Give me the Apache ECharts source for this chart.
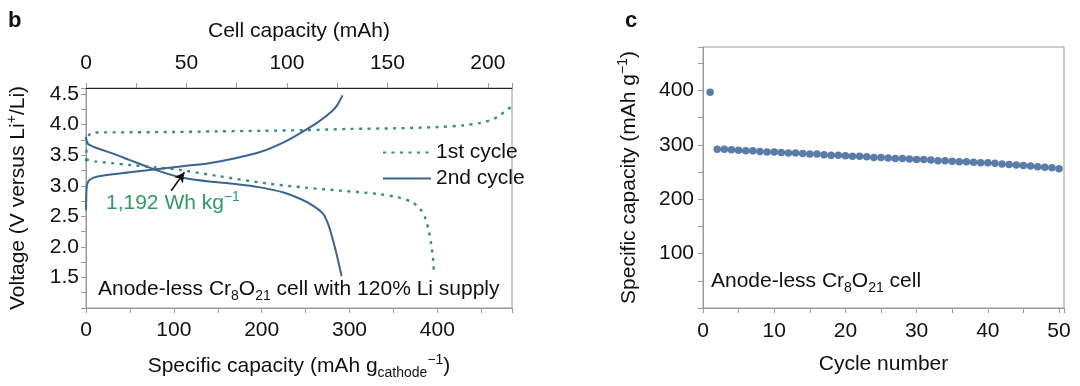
<!DOCTYPE html>
<html><head><meta charset="utf-8">
<script src="https://cdn.jsdelivr.net/npm/echarts@6/dist/echarts.min.js"></script>
<style>html,body{margin:0;padding:0;background:#fff}#c{width:1080px;height:386px}</style>
</head><body><div id="c"></div>
<script>
// Panel b: voltage profiles [specific capacity (mAh/g), voltage (V)]
const cycle1Charge = [[0,3.40],[0.5,3.55],[1,3.68],[2,3.78],[4,3.84],[8,3.87],[50,3.875],[100,3.88],[150,3.89],[200,3.90],[250,3.91],[300,3.93],[350,3.94],[400,3.96],[430,3.99],[450,4.03],[462,4.08],[470,4.14],[478,4.23],[484,4.29]];
const cycle1Discharge = [[0,3.43],[10,3.40],[30,3.37],[50,3.34],[80,3.30],[107,3.26],[150,3.16],[205,3.04],[250,2.97],[290,2.92],[330,2.87],[355,2.81],[370,2.74],[380,2.63],[386,2.48],[390,2.28],[393,2.05],[395,1.82],[396,1.62]];
const cycle2Charge = [[0,2.60],[0.5,2.90],[1,3.00],[3,3.08],[8,3.13],[20,3.17],[50,3.22],[80,3.27],[110,3.32],[140,3.37],[170,3.45],[200,3.56],[225,3.71],[245,3.87],[265,4.05],[280,4.22],[286,4.32],[292,4.48]];
const cycle2Discharge = [[0,3.80],[2,3.69],[10,3.63],[30,3.53],[50,3.42],[70,3.31],[90,3.21],[110,3.13],[140,3.07],[170,3.03],[200,2.97],[225,2.89],[245,2.78],[260,2.66],[270,2.54],[276,2.36],[281,2.12],[286,1.84],[291,1.52]];
const arrowFrom = [97, 2.92];
const arrowTo = [112, 3.22];

// Panel c: cycling
const cycleNumbers = [1,2,3,4,5,6,7,8,9,10,11,12,13,14,15,16,17,18,19,20,21,22,23,24,25,26,27,28,29,30,31,32,33,34,35,36,37,38,39,40,41,42,43,44,45,46,47,48,49,50];
const specificCapacity = [397,292,292,291,290,289,289,288,287,287,286,285,285,284,283,283,282,281,281,280,279,279,278,277,277,276,275,275,274,273,273,272,271,271,270,269,269,268,267,267,266,265,264,263,262,261,260,259,258,256];

const FONT = 'Liberation Sans, Arial, Helvetica, sans-serif';
const GREY = '#9a9a9a';
const GREEN = '#2e9a6c';
const LGREEN = '#358f78';
const BLUE = '#3b6590';
const DOT = '#2f5d92';

const rich = {
  n: {fontSize: 21, fontFamily: FONT, color: '#111', fill: '#111', lineHeight: 27},
  sub: {fontSize: 14, fontFamily: FONT, color: '#111', fill: '#111', lineHeight: 13, verticalAlign: 'bottom'},
  sup: {fontSize: 14, fontFamily: FONT, color: '#111', fill: '#111', lineHeight: 13, verticalAlign: 'top'},
  gn: {fontSize: 21, fontFamily: FONT, color: GREEN, fill: GREEN, lineHeight: 27},
  gsup: {fontSize: 14, fontFamily: FONT, color: GREEN, fill: GREEN, lineHeight: 13, verticalAlign: 'top'}
};

const LBL = {fontSize: 21, fontFamily: FONT, color: '#111'};

function axisCommon(extra) {
  return Object.assign({
    type: 'value',
    axisLine: {show: true, lineStyle: {color: GREY, width: 1}},
    axisTick: {show: true, inside: false, length: 5, lineStyle: {color: GREY}},
    splitLine: {show: false},
    nameLocation: 'middle',
    nameTextStyle: {rich: rich}
  }, extra);
}

const isMult = (v, m) => Math.abs(v / m - Math.round(v / m)) < 1e-6;

const chart = echarts.init(document.getElementById('c'));
chart.setOption({
  animation: false,
  grid: [
    {left: 86, right: 568, top: 88, bottom: 78, show: true, borderColor: GREY, borderWidth: 1},
    {left: 703, right: 16, top: 47, bottom: 78, show: true, borderColor: GREY, borderWidth: 1}
  ],
  legend: {
    data: ['1st cycle', '2nd cycle'],
    orient: 'vertical', left: 377, top: 137,
    itemWidth: 48, itemHeight: 14, itemGap: 5,
    itemStyle: {opacity: 0},
    textStyle: {fontSize: 21, fontFamily: FONT, color: '#111'}
  },
  xAxis: [
    axisCommon({gridIndex: 0, position: 'bottom', min: 0, max: 485, interval: 50,
      name: '{n|Specific capacity (mAh g}{sub|cathode}{sup|−1}{n|)}', nameGap: 45,
      axisLabel: Object.assign({margin: 12, formatter: v => (isMult(v, 100) ? String(v) : '')}, LBL)}),
    axisCommon({gridIndex: 0, position: 'top', min: 0, max: 212, interval: 25,
      name: '{n|Cell capacity (mAh)}', nameGap: 43,
      axisLine: {show: true, lineStyle: {color: '#222', width: 1}},
      axisLabel: Object.assign({margin: 14, formatter: v => (isMult(v, 50) && v <= 200 ? String(v) : '')}, LBL)}),
    axisCommon({gridIndex: 1, position: 'bottom', min: 0, max: 50.7, interval: 5,
      name: '{n|Cycle number}', nameGap: 43,
      axisLabel: Object.assign({margin: 13, formatter: v => (isMult(v, 10) ? String(v) : '')}, LBL)})
  ],
  yAxis: [
    axisCommon({gridIndex: 0, min: 1.0, max: 4.6, interval: 0.25,
      name: '{n|Voltage (V versus Li}{sup|+}{n|/Li)}', nameGap: 54, nameRotate: 90,
      axisLabel: Object.assign({margin: 7, formatter: v => (isMult(v, 0.5) && v >= 1.5 && v <= 4.5 ? v.toFixed(1) : '')}, LBL)}),
    axisCommon({gridIndex: 1, min: 0, max: 480, interval: 50,
      name: '{n|Specific capacity (mAh g}{sup|−1}{n|)}', nameGap: 60, nameRotate: 90,
      axisLabel: Object.assign({margin: 9, formatter: v => (isMult(v, 100) && v > 0 ? String(v) : '')}, LBL)})
  ],
  series: [
    {name: '1st cycle', type: 'line', xAxisIndex: 0, yAxisIndex: 0, data: cycle1Charge, showSymbol: false, symbol: 'none', smooth: 0.3,
      lineStyle: {color: LGREEN, width: 2.4, type: [3, 5.5]}, itemStyle: {color: LGREEN}},
    {name: '1st cycle', type: 'line', xAxisIndex: 0, yAxisIndex: 0, data: cycle1Discharge, showSymbol: false, symbol: 'none', smooth: 0.3,
      lineStyle: {color: LGREEN, width: 2.4, type: [3, 5.5]}, itemStyle: {color: LGREEN},
      markLine: {silent: true, symbol: ['none', 'arrow'], symbolSize: [8, 10], label: {show: false},
        lineStyle: {color: '#111', width: 1.6, type: 'solid'},
        data: [[{coord: arrowFrom}, {coord: arrowTo}]]}},
    {name: '2nd cycle', type: 'line', xAxisIndex: 0, yAxisIndex: 0, data: cycle2Charge, showSymbol: false, symbol: 'none', smooth: 0.3,
      lineStyle: {color: BLUE, width: 2}, itemStyle: {color: BLUE}},
    {name: '2nd cycle', type: 'line', xAxisIndex: 0, yAxisIndex: 0, data: cycle2Discharge, showSymbol: false, symbol: 'none', smooth: 0.3,
      lineStyle: {color: BLUE, width: 2}, itemStyle: {color: BLUE}},
    {name: 'capacity', type: 'scatter', xAxisIndex: 2, yAxisIndex: 1,
      data: cycleNumbers.map((c, i) => [c, specificCapacity[i]]), symbolSize: 7.5, itemStyle: {color: DOT}}
  ],
  graphic: [
    {type: 'text', left: 8, top: 10, style: {text: 'b', font: 'bold 22px ' + FONT, fill: '#111'}},
    {type: 'text', left: 625, top: 10, style: {text: 'c', font: 'bold 22px ' + FONT, fill: '#111'}},
    {type: 'text', left: 106, top: 190, style: {text: '{gn|1,192 Wh kg}{gsup|−1}', rich: rich}},
    {type: 'text', left: 98, top: 279, style: {text: '{n|Anode-less Cr}{sub|8}{n|O}{sub|21}{n| cell with 120% Li supply}', rich: rich}},
    {type: 'text', left: 711, top: 271, style: {text: '{n|Anode-less Cr}{sub|8}{n|O}{sub|21}{n| cell}', rich: rich}}
  ]
});
</script>
</body></html>
